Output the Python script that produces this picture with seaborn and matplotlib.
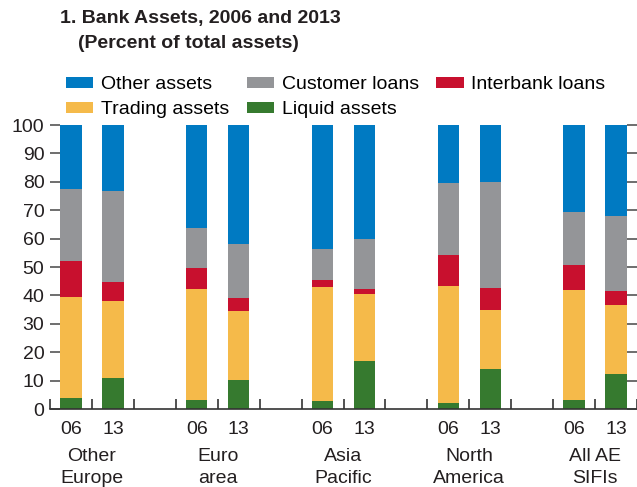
import numpy as np
import pandas as pd
import seaborn as sns
import matplotlib.pyplot as plt
from matplotlib.patches import Patch
import matplotlib.transforms as mtransforms

# Data (percent of total assets), bottom to top of each stack
regions = ["Other\nEurope", "Euro\narea", "Asia\nPacific", "North\nAmerica", "All AE\nSIFIs"]
years = ["06", "13"]
liquid = [4.0, 10.9, 3.2, 10.2, 2.8, 16.9, 2.1, 14.1, 3.2, 12.3]
trading = [35.4, 27.1, 39.1, 24.3, 40.1, 23.6, 41.2, 20.9, 38.7, 24.3]
interbank = [12.7, 6.7, 7.4, 4.6, 2.5, 1.8, 10.9, 7.6, 8.8, 4.9]
customer = [25.4, 32.1, 14.0, 19.0, 10.9, 17.6, 25.4, 37.4, 18.7, 26.5]
other = [22.5, 23.2, 36.3, 41.9, 43.7, 40.1, 20.4, 20.0, 30.6, 32.0]

series = ["Liquid assets", "Trading assets", "Interbank loans", "Customer loans", "Other assets"]
colors = {"Liquid assets": "#367a2f", "Trading assets": "#f5ba4a",
          "Interbank loans": "#c8102e", "Customer loans": "#949598",
          "Other assets": "#007ac2"}

# Build table with slots (empty gap slots between regions)
slots = []
order = []
for i, r in enumerate(regions):
    for y in years:
        slots.append(f"{r}|{y}")
        order.append(f"{r}|{y}")
    if i < len(regions) - 1:
        order.append(f"gap{i}")

df = pd.DataFrame({"slot": slots, "Liquid assets": liquid, "Trading assets": trading,
                   "Interbank loans": interbank, "Customer loans": customer,
                   "Other assets": other})
cum = df[series].cumsum(axis=1)

plt.rcParams["font.family"] = ["Liberation Sans", "DejaVu Sans"]
fig = plt.figure(figsize=(6.37, 4.87), dpi=100)
ax = fig.add_axes([50 / 637, 1 - 409 / 487, 587 / 637, 284 / 487])

# stacked bars: draw cumulative tops from highest down
for s in reversed(series):
    sns.barplot(x=df["slot"], y=cum[s], order=order, color=colors[s],
                width=0.51, saturation=1, ax=ax, linewidth=0)

ax.set_ylim(0, 100)
ax.set_xlim(-0.5, len(order) - 0.5)
ax.set_yticks(range(0, 101, 10))
ax.set_xlabel("")
ax.set_ylabel("")
for sp in ["left", "right", "top"]:
    ax.spines[sp].set_visible(False)
ax.spines["bottom"].set_color("#333333")
ax.spines["bottom"].set_linewidth(1.2)

# year labels on bars, separators as minor ticks
pos = [order.index(s) for s in slots]
ax.set_xticks(pos)
ax.set_xticklabels([s.split("|")[1] for s in slots], fontsize=14)
ax.set_xticks(np.arange(-0.5, len(order), 1.0), minor=True)
ax.tick_params(axis="x", which="major", length=0, pad=9, colors="#231f20")
ax.tick_params(axis="x", which="minor", length=7, direction="in", width=1.2, color="#333333")
ax.tick_params(axis="y", length=7, direction="in", width=1.2, color="#555555",
               right=True, labelsize=14, pad=4, labelcolor="#231f20")

trans = mtransforms.blended_transform_factory(ax.transData, ax.transAxes)
for i, r in enumerate(regions):
    xm = i * 3 + 0.5
    ax.text(xm, -0.138, r, transform=trans, ha="center", va="top",
            fontsize=14, linespacing=1.38, color="#231f20")

fig.text(60 / 637, 1 - 18 / 487, "1. Bank Assets, 2006 and 2013", fontsize=14,
         fontweight="bold", va="center", color="#231f20")
fig.text(78 / 637, 1 - 44 / 487, "(Percent of total assets)", fontsize=14,
         fontweight="bold", va="center", color="#231f20")

leg_order = ["Other assets", "Trading assets", "Customer loans", "Liquid assets", "Interbank loans"]
handles = [Patch(facecolor=colors[s], label=s) for s in leg_order]
fig.legend(handles=handles, ncol=3, loc="upper left", frameon=False,
           bbox_to_anchor=(66 / 637, 1 - 76 / 487), fontsize=14,
           handlelength=1.4, handleheight=0.5, handletextpad=0.4,
           columnspacing=0.9, labelspacing=0.42, borderaxespad=0, borderpad=0)

fig.savefig("out.png", dpi=100)
